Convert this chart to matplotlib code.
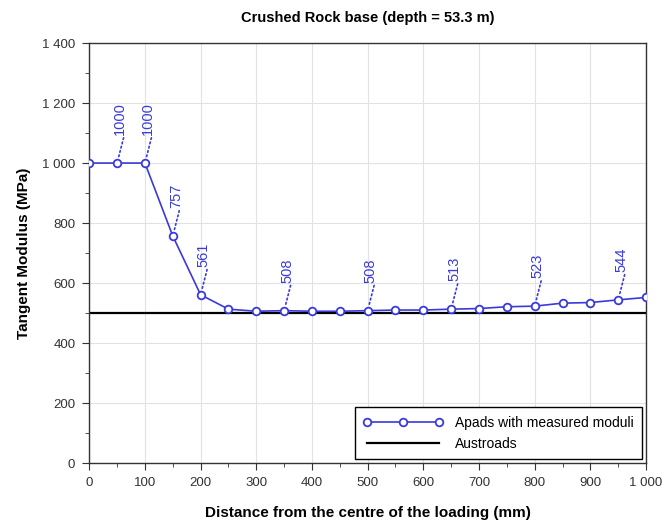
import matplotlib
matplotlib.use("Agg")
import matplotlib.pyplot as plt
from matplotlib.ticker import FuncFormatter, MultipleLocator

plt.rcParams['font.family'] = ['Liberation Sans', 'DejaVu Sans']

distance = [0, 50, 100, 150, 200, 250, 300, 350, 400, 450, 500,
            550, 600, 650, 700, 750, 800, 850, 900, 950, 1000]
moduli = [1000, 1000, 1000, 757, 561, 513, 506, 508, 506, 506, 508,
          510, 510, 513, 515, 521, 523, 533, 535, 544, 552]
labelled = [50, 100, 150, 200, 350, 500, 650, 800, 950]
austroads_x = [0, 1000]
austroads_y = [500, 500]

blue = '#3a3ada'

fig = plt.figure(figsize=(6.66, 5.25), dpi=100)
ax = fig.add_axes([0.134, 0.118, 0.836, 0.8])

ax.plot(distance, moduli, color=blue, lw=1.2, marker='o', markersize=5.5,
        markerfacecolor='white', markeredgecolor=blue, markeredgewidth=1.3,
        label='Apads with measured moduli', zorder=3)
ax.plot(austroads_x, austroads_y, color='black', lw=1.6, label='Austroads', zorder=2)

for x, y in zip(distance, moduli):
    if x in labelled:
        ax.annotate(f"{y}", xy=(x, y), xytext=(3, 28), textcoords='offset pixels',
                    rotation=90, ha='center', va='bottom', color=blue, fontsize=10.5,
                    arrowprops=dict(arrowstyle='-', linestyle=':', color=blue, lw=1.2,
                                    shrinkA=0, shrinkB=3, relpos=(0.8, 0)))

ax.set_xlim(0, 1000)
ax.set_ylim(0, 1400)
ax.xaxis.set_major_locator(MultipleLocator(100))
ax.xaxis.set_minor_locator(MultipleLocator(50))
ax.yaxis.set_major_locator(MultipleLocator(200))
ax.yaxis.set_minor_locator(MultipleLocator(100))

fmt = FuncFormatter(lambda v, p: f"{int(v):,}".replace(',', ' '))
ax.xaxis.set_major_formatter(fmt)
ax.yaxis.set_major_formatter(fmt)
ax.tick_params(which='both', direction='out', labelsize=9.5, top=False, right=False,
               color='#333333', labelcolor='#333333')
ax.tick_params(which='major', length=5, pad=5)
ax.tick_params(which='minor', length=3)

ax.grid(True, which='major', color='#e2e2e2', lw=0.8)
for s in ax.spines.values():
    s.set_linewidth(1.0)
    s.set_color('#333333')

ax.set_title("Crushed Rock base (depth = 53.3 m)", fontsize=10.5, fontweight='bold', pad=15)
ax.set_xlabel("Distance from the centre of the loading (mm)", fontsize=11,
              fontweight='bold', labelpad=12)
ax.set_ylabel("Tangent Modulus (MPa)", fontsize=11, fontweight='bold', labelpad=8)

leg = ax.legend(loc='lower right', fontsize=10, fancybox=False, edgecolor='black',
                framealpha=1, borderaxespad=0.3, handlelength=5.8, numpoints=3,
                borderpad=0.6)
leg.get_frame().set_linewidth(1.0)

fig.savefig("out.png", dpi=100)
